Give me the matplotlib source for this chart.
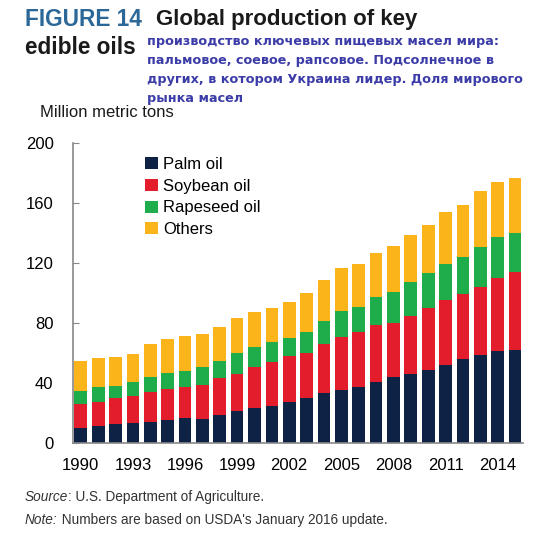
import matplotlib
matplotlib.use("Agg")
import matplotlib.pyplot as plt
from matplotlib.patches import Patch
import numpy as np

years = list(range(1990, 2016))
palm = [10.2, 11.1, 12.4, 13.3, 14.2, 15.6, 16.9, 16.2, 18.4, 21.3, 23.6, 24.9, 27.3,
        29.8, 33.3, 35.6, 37.3, 40.9, 44.2, 46.0, 48.9, 52.2, 56.2, 58.9, 61.1, 62.2]
soy_top = [26.0, 27.6, 29.8, 31.3, 34.2, 36.2, 37.6, 38.7, 43.1, 46.0, 50.7, 54.0, 58.0,
           60.2, 66.2, 70.7, 73.8, 78.9, 80.2, 84.9, 90.2, 95.1, 99.6, 104.2, 110.2, 114.2]
rape_top = [34.9, 37.1, 38.0, 40.7, 44.2, 46.9, 48.2, 50.4, 54.9, 60.2, 64.2, 67.1, 70.2,
            74.2, 81.6, 88.2, 90.9, 97.6, 100.7, 107.3, 113.3, 119.1, 124.2, 130.9, 137.6, 140.2]
total = [54.9, 56.7, 57.6, 59.6, 65.8, 69.6, 71.1, 72.7, 77.3, 83.6, 87.3, 90.0, 93.8,
         100.0, 108.9, 116.9, 119.3, 126.4, 131.6, 138.4, 145.6, 154.2, 158.4, 168.0, 174.0, 176.4]
series_names = ["Palm oil", "Soybean oil", "Rapeseed oil", "Others"]
colors = ["#0e2245", "#e31d2c", "#1fad4c", "#fbb51a"]
yticks = [0, 40, 80, 120, 160, 200]

palm = np.array(palm)
soybean = np.array(soy_top) - palm
rapeseed = np.array(rape_top) - np.array(soy_top)
others = np.array(total) - np.array(rape_top)

plt.rcParams['font.family'] = ['Liberation Sans', 'DejaVu Sans']

fig = plt.figure(figsize=(5.42, 5.39), dpi=100)
ax = fig.add_axes([0.1347, 0.178, 0.965 - 0.1347, 0.7347 - 0.178])

x = np.arange(len(years))
w = 0.73
bottom = np.zeros(len(years))
for vals, c in zip([palm, soybean, rapeseed, others], colors):
    ax.bar(x, vals, width=w, bottom=bottom, color=c, linewidth=0, zorder=2)
    bottom = bottom + vals

ax.set_xlim(-0.45, 25.46)
ax.set_ylim(0, 200)
ax.set_yticks(yticks)
ax.set_yticklabels([str(v) for v in yticks], fontsize=12)
ax.set_xticks(x[::3])
ax.set_xticklabels([str(y) for y in years[::3]], fontsize=12)
ax.tick_params(axis='y', direction='in', length=4, color='#888888', pad=14)
ax.tick_params(axis='x', length=0, pad=11)
for s in ['top', 'right']:
    ax.spines[s].set_visible(False)
for s in ['left', 'bottom']:
    ax.spines[s].set_color('#888888')
    ax.spines[s].set_linewidth(1.2)

handles = [Patch(facecolor=c, edgecolor='none') for c in colors]
ax.legend(handles, series_names, loc='upper left', bbox_to_anchor=(0.146, 0.975),
          frameon=False, fontsize=12, handlelength=0.75, handleheight=0.75,
          handletextpad=0.3, labelspacing=0.4, borderaxespad=0)

fig.text(25 / 542, 1 - 20 / 539, "FIGURE 14", fontsize=16.3, fontweight='bold',
         color='#2b6898', va='center', ha='left')
fig.text(156 / 542, 1 - 20 / 539, "Global production of key", fontsize=16,
         fontweight='bold', color='#1a1a1a', va='center', ha='left')
fig.text(25 / 542, 1 - 47 / 539, "edible oils", fontsize=16.3, fontweight='bold',
         color='#1a1a1a', va='center', ha='left')
ru = ("производство ключевых пищевых масел мира:\n"
      "пальмовое, соевое, рапсовое. Подсолнечное в\n"
      "других, в котором Украина лидер. Доля мирового\n"
      "рынка масел")
fig.text(147 / 542, 1 - 35 / 539, ru, fontsize=9.2, fontweight='bold', color='#3c3ca8',
         va='top', ha='left', linespacing=1.6, family=['DejaVu Sans'])
fig.text(40 / 542, 1 - 112 / 539, "Million metric tons", fontsize=12, color='#1a1a1a',
         va='center', ha='left')

t1 = fig.text(25 / 542, 1 - 501 / 539, "Source", fontsize=9.8, style='italic',
              color='#333333', va='baseline', ha='left')
t2 = fig.text(25 / 542, 1 - 524 / 539, "Note:", fontsize=9.8, style='italic',
              color='#333333', va='baseline', ha='left')

fig.canvas.draw()
r = fig.canvas.get_renderer()
for tt, rest in [(t1, ": U.S. Department of Agriculture."),
                 (t2, " Numbers are based on USDA's January 2016 update.")]:
    bb = tt.get_window_extent(r).transformed(fig.transFigure.inverted())
    fig.text(bb.x1, tt.get_position()[1], rest, fontsize=9.8, color='#333333',
             va='baseline', ha='left')

fig.savefig("out.png", dpi=100)
